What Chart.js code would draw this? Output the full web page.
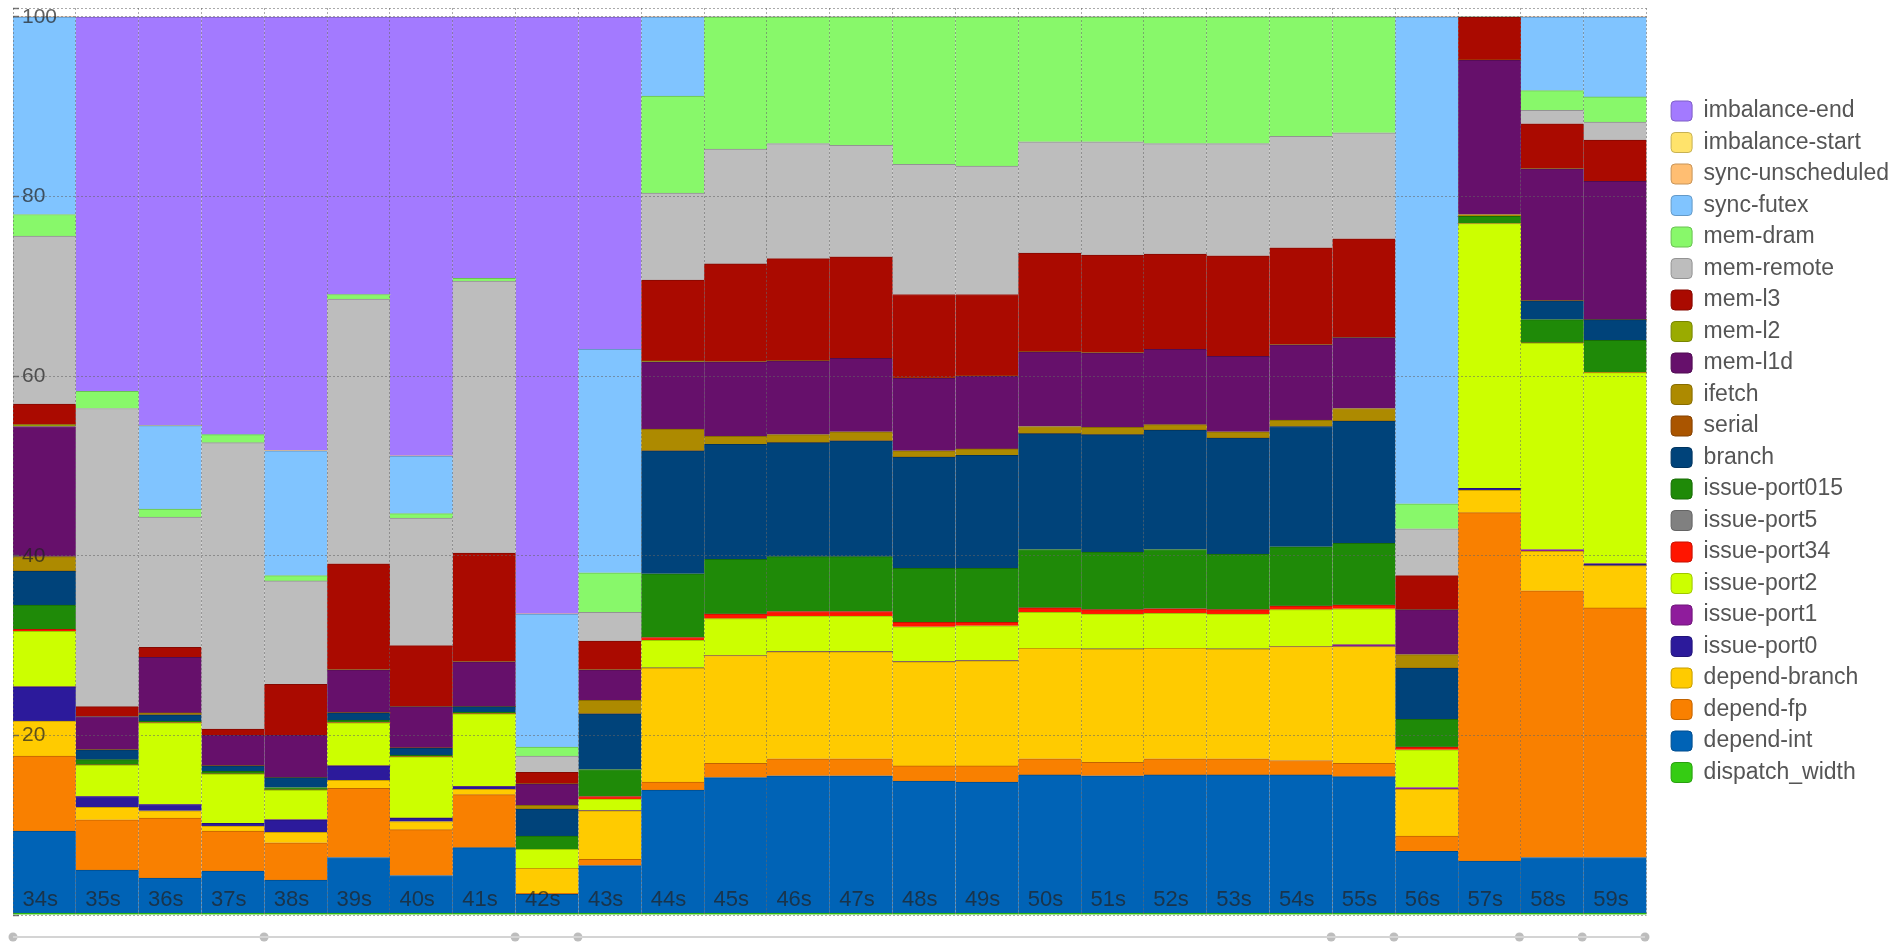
<!DOCTYPE html>
<html>
<head>
<meta charset="utf-8">
<title>Cycle stack</title>
<script src="https://cdn.jsdelivr.net/npm/chart.js@4.4.1/dist/chart.umd.min.js"></script>
<style>
  html, body { margin: 0; padding: 0; background: #fff; }
  #wrap { position: relative; width: 1900px; height: 942px; overflow: hidden; }
  #mainChart { position: absolute; left: 0; top: 0; }
  #rangeChart { position: absolute; left: 0; top: 926px; }
</style>
</head>
<body>
<div id="wrap">
  <canvas id="mainChart" width="1900" height="942"></canvas>
  <canvas id="rangeChart" width="1660" height="22"></canvas>
</div>
<script>
// x categories (one column per second)
const seconds = ['34s', '35s', '36s', '37s', '38s', '39s', '40s', '41s', '42s', '43s', '44s', '45s', '46s',
                 '47s', '48s', '49s', '50s', '51s', '52s', '53s', '54s', '55s', '56s', '57s', '58s', '59s'];

// percentages per component, bottom of the stack first
const dispatchWidth  = [0.2, 0.2, 0.2, 0.2, 0.2, 0.2, 0.2, 0.2, 0.2, 0.2, 0.2, 0.2, 0.2, 0.2, 0.2, 0.2, 0.2, 0.2, 0.2, 0.2, 0.2, 0.2, 0.2, 0.2, 0.2, 0.2];
const dependInt      = [9.15, 4.8, 3.9, 4.7, 3.7, 6.2, 4.2, 7.3, 2.1, 5.3, 13.7, 15.1, 15.3, 15.3, 14.7, 14.6, 15.4, 15.3, 15.4, 15.4, 15.4, 15.2, 6.9, 5.8, 6.2, 6.2];
const dependFp       = [8.35, 5.6, 6.7, 4.45, 4.15, 7.7, 5.1, 5.9, 0.1, 0.7, 0.9, 1.6, 1.9, 1.9, 1.7, 1.8, 1.8, 1.5, 1.8, 1.8, 1.6, 1.5, 1.7, 38.8, 29.7, 27.8];
const dependBranch   = [3.9, 1.4, 0.8, 0.55, 1.15, 0.9, 0.9, 0.6, 2.8, 5.4, 12.7, 12.0, 11.9, 11.9, 11.6, 11.7, 12.3, 12.6, 12.3, 12.2, 12.7, 13.0, 5.2, 2.5, 4.4, 4.7];
const issuePort0     = [3.8, 1.2, 0.7, 0.3, 1.4, 1.6, 0.4, 0.3, 0, 0, 0, 0, 0, 0, 0, 0, 0, 0, 0, 0, 0, 0, 0, 0.2, 0, 0.2];
const issuePort1     = [0, 0, 0, 0, 0, 0, 0, 0, 0, 0, 0, 0, 0, 0, 0, 0, 0, 0, 0, 0, 0, 0.2, 0.2, 0, 0.2, 0];
const issuePort2     = [6.2, 3.5, 9.1, 5.5, 3.3, 4.8, 6.8, 8.1, 2.1, 1.3, 3.1, 4.1, 4.0, 4.0, 3.9, 3.9, 4.0, 3.9, 3.9, 3.9, 4.1, 4.0, 4.2, 29.5, 23.0, 21.3];
const issuePort34    = [0.2, 0, 0, 0, 0, 0, 0, 0, 0, 0.3, 0.3, 0.5, 0.5, 0.5, 0.5, 0.4, 0.5, 0.5, 0.5, 0.5, 0.4, 0.4, 0.3, 0, 0, 0];
const issuePort5     = [0, 0, 0, 0, 0, 0, 0, 0, 0, 0, 0, 0, 0, 0, 0, 0, 0, 0, 0, 0, 0, 0, 0, 0, 0, 0];
const issuePort015   = [2.7, 0.6, 0.2, 0.3, 0.3, 0.3, 0.2, 0.2, 1.5, 3.0, 7.1, 6.1, 6.1, 6.1, 6.0, 6.0, 6.5, 6.4, 6.6, 6.2, 6.6, 6.9, 3.1, 0.8, 2.6, 3.6];
const branch         = [3.8, 1.1, 0.7, 0.6, 1.1, 0.8, 0.8, 0.6, 3.0, 6.2, 13.7, 12.8, 12.7, 12.9, 12.4, 12.6, 12.9, 13.1, 13.3, 12.9, 13.4, 13.6, 5.7, 0, 2.1, 2.3];
const serial         = [0, 0, 0, 0, 0, 0, 0, 0, 0, 0, 0, 0, 0, 0, 0, 0, 0, 0, 0, 0, 0, 0, 0, 0, 0, 0];
const ifetch         = [1.6, 0, 0.2, 0, 0, 0, 0, 0, 0.4, 1.5, 2.4, 0.9, 0.9, 1.0, 0.7, 0.7, 0.8, 0.8, 0.6, 0.7, 0.7, 1.4, 1.5, 0.2, 0, 0];
const memL1d         = [14.5, 3.7, 6.2, 3.4, 4.7, 4.8, 4.6, 5.0, 2.4, 3.4, 7.5, 8.3, 8.2, 8.2, 8.1, 8.1, 8.3, 8.3, 8.4, 8.4, 8.4, 7.9, 5.0, 17.2, 14.7, 15.4];
const memL2          = [0.2, 0, 0, 0, 0, 0, 0, 0, 0, 0, 0.1, 0, 0, 0, 0, 0, 0, 0, 0, 0, 0, 0, 0, 0, 0, 0];
const memL3          = [2.3, 1.1, 1.1, 0.7, 5.7, 11.8, 6.8, 12.1, 1.3, 3.2, 9.0, 10.9, 11.4, 11.3, 9.3, 9.1, 11.0, 10.9, 10.6, 11.2, 10.8, 11.0, 3.8, 4.8, 5.0, 4.6];
const memRemote      = [18.7, 33.2, 14.5, 31.9, 11.5, 29.5, 14.2, 30.3, 1.8, 3.2, 9.7, 12.8, 12.8, 12.4, 14.5, 14.3, 12.4, 12.6, 12.3, 12.5, 12.4, 11.8, 5.2, 0, 1.5, 2.0];
const memDram        = [2.4, 1.9, 0.9, 0.9, 0.6, 0.5, 0.5, 0.3, 1.0, 4.4, 10.8, 14.7, 14.1, 14.3, 16.4, 16.6, 13.9, 13.9, 14.1, 14.1, 13.3, 12.9, 2.8, 0, 2.2, 2.8];
const syncFutex      = [22.0, 0, 9.3, 0, 13.9, 0, 6.4, 0, 14.8, 24.9, 8.8, 0, 0, 0, 0, 0, 0, 0, 0, 0, 0, 0, 54.2, 0, 8.2, 8.9];
const syncUnsched    = [0, 0, 0, 0, 0, 0, 0, 0, 0, 0, 0, 0, 0, 0, 0, 0, 0, 0, 0, 0, 0, 0, 0, 0, 0, 0];
const imbalanceStart = [0, 0, 0, 0, 0, 0, 0, 0, 0, 0, 0, 0, 0, 0, 0, 0, 0, 0, 0, 0, 0, 0, 0, 0, 0, 0];
const imbalanceEnd   = [0, 41.7, 45.5, 46.5, 48.3, 30.9, 48.9, 29.1, 66.5, 37.0, 0, 0, 0, 0, 0, 0, 0, 0, 0, 0, 0, 0, 0, 0, 0, 0];

// y axis ticks (gridlines); labels are shown for all but 0
const yTicks = [0, 20, 40, 60, 80, 100];
const yTop = 101;

// positions of the markers on the range strip under the chart (seconds)
const rangeMarks = [34, 38, 42, 43, 55, 56, 58, 59, 60];

const series = [
    ['dispatch_width', dispatchWidth, '#35cc13'],
    ['depend-int', dependInt, '#0063b6'],
    ['depend-fp', dependFp, '#f98000'],
    ['depend-branch', dependBranch, '#ffcb00'],
    ['issue-port0', issuePort0, '#2c1a9b'],
    ['issue-port1', issuePort1, '#8f1c9c'],
    ['issue-port2', issuePort2, '#ccff00'],
    ['issue-port34', issuePort34, '#ff1500'],
    ['issue-port5', issuePort5, '#808080'],
    ['issue-port015', issuePort015, '#1f8a08'],
    ['branch', branch, '#00437a'],
    ['serial', serial, '#aa5500'],
    ['ifetch', ifetch, '#ad8a00'],
    ['mem-l1d', memL1d, '#66106b'],
    ['mem-l2', memL2, '#9aab00'],
    ['mem-l3', memL3, '#aa0a00'],
    ['mem-remote', memRemote, '#bdbdbd'],
    ['mem-dram', memDram, '#88f86a'],
    ['sync-futex', syncFutex, '#80c4ff'],
    ['sync-unscheduled', syncUnsched, '#ffbe72'],
    ['imbalance-start', imbalanceStart, '#ffe36b'],
    ['imbalance-end', imbalanceEnd, '#a37aff']
];

// darker outline for a colour
function shade(hex, f) {
    const n = parseInt(hex.slice(1), 16);
    const r = Math.round(((n >> 16) & 255) * f);
    const g = Math.round(((n >> 8) & 255) * f);
    const b = Math.round((n & 255) * f);
    return `rgb(${r},${g},${b})`;
}

const labelColor = 'rgba(35,35,35,0.72)';
const gridColor = 'rgba(100,100,100,0.55)';

new Chart(document.getElementById('mainChart'), {
    type: 'bar',
    data: {
        labels: seconds,
        datasets: series.map(([name, values, color]) => ({
            label: name,
            data: values,
            backgroundColor: color,
            borderColor: shade(color, 0.78),
            borderWidth: { top: 1, right: 0, bottom: 0, left: 0 },
            barPercentage: 1,
            categoryPercentage: 1,
            stack: 'cycles'
        }))
    },
    options: {
        responsive: false,
        animation: false,
        events: [],
        layout: { padding: { top: 8, left: 13, bottom: 27, right: 1 } },
        plugins: {
            tooltip: { enabled: false },
            legend: {
                position: 'right',
                align: 'start',
                reverse: true,
                title: { display: true, text: ' ', padding: { top: 71, bottom: 0 }, font: { size: 10 } },
                labels: {
                    font: { family: 'Liberation Sans', size: 23 },
                    color: '#555',
                    boxWidth: 21,
                    boxHeight: 20,
                    padding: 8.5,
                    useBorderRadius: true,
                    borderRadius: 4,
                    generateLabels: chart => Chart.defaults.plugins.legend.labels.generateLabels(chart)
                        .map(item => ({ ...item, lineWidth: 1 }))
                }
            }
        },
        scales: {
            x: {
                stacked: true,
                grid: { color: gridColor, drawTicks: false, offset: true, z: 1 },
                border: { display: false, dash: [2, 2] },
                ticks: {
                    z: 2,
                    autoSkip: false,
                    maxRotation: 0,
                    mirror: true,
                    align: 'start',
                    labelOffset: -22,
                    padding: 1.5,
                    color: labelColor,
                    font: { family: 'Liberation Sans', size: 22 }
                },
                afterFit: scale => { scale.height = 0; scale.paddingLeft = 0; scale.paddingRight = 0; }
            },
            y: {
                stacked: true,
                min: 0,
                max: yTop,
                grid: {
                    color: gridColor,
                    drawTicks: true,
                    tickLength: -6,
                    tickWidth: 1.5,
                    tickColor: 'rgba(90,90,90,0.8)',
                    z: 1
                },
                border: { display: false, dash: [2, 2] },
                ticks: {
                    z: 2,
                    autoSkip: false,
                    mirror: true,
                    padding: 9,
                    color: labelColor,
                    font: { family: 'Liberation Sans', size: 21 },
                    callback: v => (v > 0 && v < yTop) ? String(v) : ''
                },
                afterBuildTicks: scale => {
                    scale.ticks = yTicks.concat([yTop]).map(v => ({ value: v }));
                },
                afterFit: scale => { scale.width = 0; scale.paddingTop = 0; scale.paddingBottom = 0; }
            },
            gap: {
                type: 'linear',
                position: 'right',
                display: true,
                grid: { display: false },
                border: { display: false },
                ticks: { display: false },
                afterFit: scale => { scale.width = 16; scale.paddingTop = 0; scale.paddingBottom = 0; }
            }
        }
    }
});

// range strip with markers under the chart
new Chart(document.getElementById('rangeChart'), {
    type: 'scatter',
    data: {
        datasets: [
            {
                data: [rangeMarks[0], rangeMarks[rangeMarks.length - 1]].map(v => ({ x: v, y: 1 })),
                showLine: true,
                borderColor: '#d4d4d4',
                borderWidth: 2,
                pointRadius: 0,
                clip: false
            },
            {
                data: rangeMarks.map(v => ({ x: v, y: 1 })),
                pointRadius: 4.5,
                backgroundColor: '#bdbdbd',
                borderWidth: 0,
                clip: false
            }
        ]
    },
    options: {
        responsive: false,
        animation: false,
        events: [],
        layout: { padding: { left: 13, right: 15, top: 0, bottom: 0 } },
        plugins: { legend: { display: false }, tooltip: { enabled: false } },
        scales: {
            x: { type: 'linear', min: 34, max: 60, display: false },
            y: { min: 0, max: 2, display: false }
        }
    }
});
</script>
</body>
</html>
